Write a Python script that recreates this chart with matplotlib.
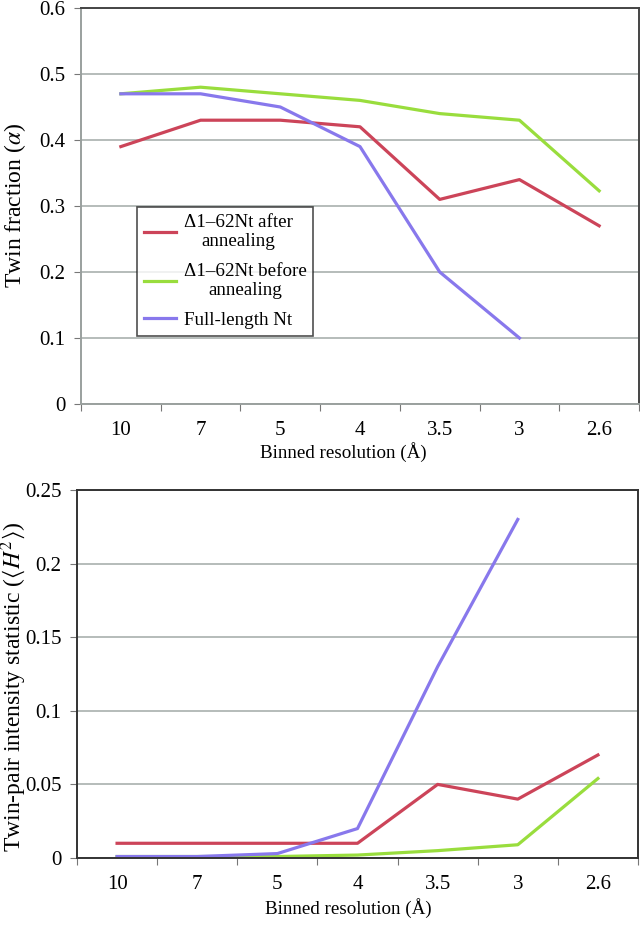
import matplotlib
matplotlib.use("Agg")
import matplotlib.pyplot as plt
import numpy as np

plt.rcParams['font.family'] = ['Liberation Serif', 'DejaVu Serif']
plt.rcParams['mathtext.fontset'] = 'stix'

categories = ["10", "7", "5", "4", "3.5", "3", "2.6"]
series_names = ["Δ1–62Nt after\nannealing", "Δ1–62Nt before\nannealing", "Full-length Nt"]

alpha_after = [0.39, 0.43, 0.43, 0.42, 0.31, 0.34, 0.27]
alpha_before = [0.47, 0.48, 0.47, 0.46, 0.44, 0.43, 0.323]
alpha_full = [0.47, 0.47, 0.45, 0.39, 0.20, 0.10, np.nan]

h2_after = [0.01, 0.01, 0.01, 0.01, 0.05, 0.04, 0.07]
h2_before = [0.001, 0.001, 0.001, 0.002, 0.005, 0.009, 0.054]
h2_full = [0.001, 0.001, 0.003, 0.02, 0.13, 0.23, np.nan]

colors = ["#CC4459", "#99DD3D", "#8878EC"]

W, H = 640, 926
fig = plt.figure(figsize=(W / 100, H / 100), dpi=100)

def axes_px(l, t, r, b):
    return fig.add_axes([l / W, 1 - b / H, (r - l) / W, (b - t) / H])

ax1 = axes_px(81, 8, 639, 404)
ax2 = axes_px(77, 490, 638, 858)

x = np.arange(len(categories))

def style(ax, ymax, ystep, ylabel, label_xy, ylabel_size, xlabel_xy, top_gray=False):
    ax.set_xlim(-0.5, len(categories) - 0.5)
    ax.set_ylim(0, ymax)
    yt = np.round(np.arange(0, ymax + ystep / 2, ystep), 3)
    ax.set_yticks(yt)
    ax.set_yticklabels([("%g" % v) for v in yt], fontsize=15)
    ax.yaxis.grid(True, color="#A9B0AE", linewidth=1.2)
    ax.set_axisbelow(True)
    ax.set_xticks(np.arange(-0.5, len(categories) - 0.4, 1.0))
    ax.set_xticklabels([])
    ax.set_xticks(x, minor=True)
    ax.set_xticklabels(categories, minor=True, fontsize=15)
    ax.tick_params(axis='x', which='minor', length=0, pad=12)
    ax.tick_params(axis='x', which='major', length=5, direction='out', color="#777777")
    ax.tick_params(axis='y', length=5, direction='out', pad=6, color="#777777")
    ax.set_xlabel("Binned resolution (Å)", fontsize=13.7)
    ax.xaxis.set_label_coords(*xlabel_xy)
    ax.set_ylabel(ylabel, fontsize=ylabel_size)
    ax.yaxis.set_label_coords(*label_xy)
    if top_gray:
        ax.spines['left'].set_color("#9AA09E")
        ax.spines['bottom'].set_color("#9AA09E")
        ax.spines['top'].set_color("#444444")
        ax.spines['right'].set_color("#444444")
    else:
        for s in ax.spines.values():
            s.set_color("#333333")
    for s in ax.spines.values():
        s.set_linewidth(1.4)

lw = 2.3
l1, = ax1.plot(x, alpha_after, color=colors[0], lw=lw)
l2, = ax1.plot(x, alpha_before, color=colors[1], lw=lw)
l3, = ax1.plot(x, alpha_full, color=colors[2], lw=lw)
style(ax1, 0.6, 0.1, r"Twin fraction ($\alpha$)", ((28 - 81) / 558, 0.5), 17,
      ((343 - 81) / 558, (404 - 442) / 396), top_gray=True)
leg = ax1.legend([l1, l2, l3], series_names, loc='upper left',
                 bbox_to_anchor=((137 - 81) / (639 - 81), (404 - 207) / (404 - 8)),
                 fontsize=13.7, frameon=True, fancybox=False, edgecolor="#222222",
                 handlelength=1.7, handletextpad=0.4, borderpad=0.35, labelspacing=0.65,
                 borderaxespad=0)
leg.get_frame().set_linewidth(1.2)
for t in leg.get_texts():
    t.set_multialignment('center')

ax2.plot(x, h2_after, color=colors[0], lw=lw)
ax2.plot(x, h2_before, color=colors[1], lw=lw)
ax2.plot(x, h2_full, color=colors[2], lw=lw)
style(ax2, 0.25, 0.05, r"Twin-pair intensity statistic ($\langle H^2\rangle$)",
      ((28 - 77) / 561, 0.465), 17, ((348 - 77) / 561, (858 - 898) / 368))

fig.savefig("out.png", dpi=100)
